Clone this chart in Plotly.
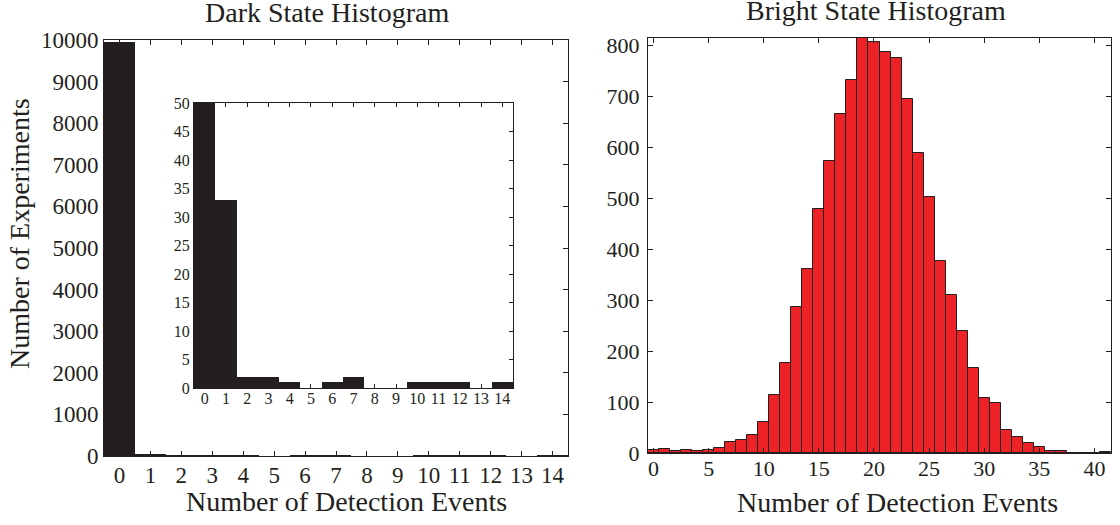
import plotly.graph_objects as go

W, H = 1120, 525

# ---- data ----
dark_events = list(range(0, 15))
dark_counts = [9955, 33, 2, 2, 1, 0, 1, 2, 0, 0, 1, 1, 1, 0, 1]

bright_events = list(range(0, 42))
bright_counts = [5, 7, 3, 6, 4, 6, 10, 22, 26, 36,
                 60, 114, 177, 286, 361, 479, 574, 666, 733, 816,
                 807, 788, 775, 696, 590, 503, 378, 310, 240, 167,
                 108, 98, 46, 32, 20, 12, 4, 3, 0, 0,
                 0, 1]

dark_ticks = list(range(0, 15))
dark_yticks = list(range(0, 10001, 1000))
inset_yticks = list(range(0, 51, 5))
bright_xticks = list(range(0, 41, 5))
bright_yticks = list(range(0, 801, 100))

INK = "#231f20"
RED = "#ec2227"
FONT = "Liberation Serif"


def px_x(x):
    return x / W


def px_y(y):
    return 1 - y / H


fig = go.Figure()

fig.add_trace(go.Bar(x=dark_events, y=dark_counts, marker=dict(color=INK, line=dict(width=0)),
                     width=1, xaxis="x", yaxis="y", showlegend=False))
fig.add_trace(go.Bar(x=bright_events, y=bright_counts,
                     marker=dict(color=RED, line=dict(color=INK, width=1)),
                     width=1, xaxis="x2", yaxis="y2", showlegend=False))
fig.add_trace(go.Bar(x=dark_events, y=dark_counts, marker=dict(color=INK, line=dict(width=0)),
                     width=1, xaxis="x3", yaxis="y3", showlegend=False))


def axis(domain, rng, tickvals, size, anchor, standoff, ticklen=5):
    return dict(domain=domain, range=rng, tickvals=tickvals, ticktext=[str(v) for v in tickvals],
                ticks="inside", ticklen=ticklen, tickwidth=1, tickcolor=INK,
                showline=True, linecolor=INK, linewidth=1, mirror="ticks",
                showgrid=False, zeroline=False, anchor=anchor, automargin=False,
                tickfont=dict(family=FONT, size=size, color=INK),
                ticklabelstandoff=standoff, fixedrange=True)


fig.update_layout(
    width=W, height=H, autosize=False,
    margin=dict(l=0, r=0, t=0, b=0, pad=0, autoexpand=False),
    paper_bgcolor="white", plot_bgcolor="white",
    bargap=0, barmode="overlay", showlegend=False,
    font=dict(family=FONT, color=INK),
    xaxis=axis([px_x(104), px_x(568)], [-0.5, 14.5], dark_ticks, 23, "y", -2),
    yaxis=axis([px_y(456), px_y(40)], [0, 10000], dark_yticks, 23, "x", 0),
    xaxis2=axis([px_x(648), px_x(1111)], [-0.5, 41.5], bright_xticks, 22, "y2", -4),
    yaxis2=axis([px_y(453), px_y(38)], [0, 815], bright_yticks, 22, "x2", 3),
    xaxis3=axis([px_x(194), px_x(513)], [-0.5, 14.5], dark_ticks, 16, "y3", -4, ticklen=4),
    yaxis3=axis([px_y(388), px_y(103)], [0, 50], inset_yticks, 16, "x3", 0, ticklen=4),
)

ann = [
    ("Dark State Histogram", 327, 12, 28, 0),
    ("Bright State Histogram", 876, 10, 28, 0),
    ("Number of Detection Events", 346, 501, 28, 0),
    ("Number of Detection Events", 897, 502, 28, 0),
    ("Number of Experiments", 19, 234, 28, -90),
]
for text, x, y, size, ang in ann:
    fig.add_annotation(text=text, xref="paper", yref="paper", x=px_x(x), y=px_y(y),
                       xanchor="center", yanchor="middle", showarrow=False, textangle=ang,
                       font=dict(family=FONT, size=size, color=INK))

fig.write_html("out.html", config={"displayModeBar": False},
               post_script="document.body.style.margin='0';document.body.style.overflow='hidden';")
